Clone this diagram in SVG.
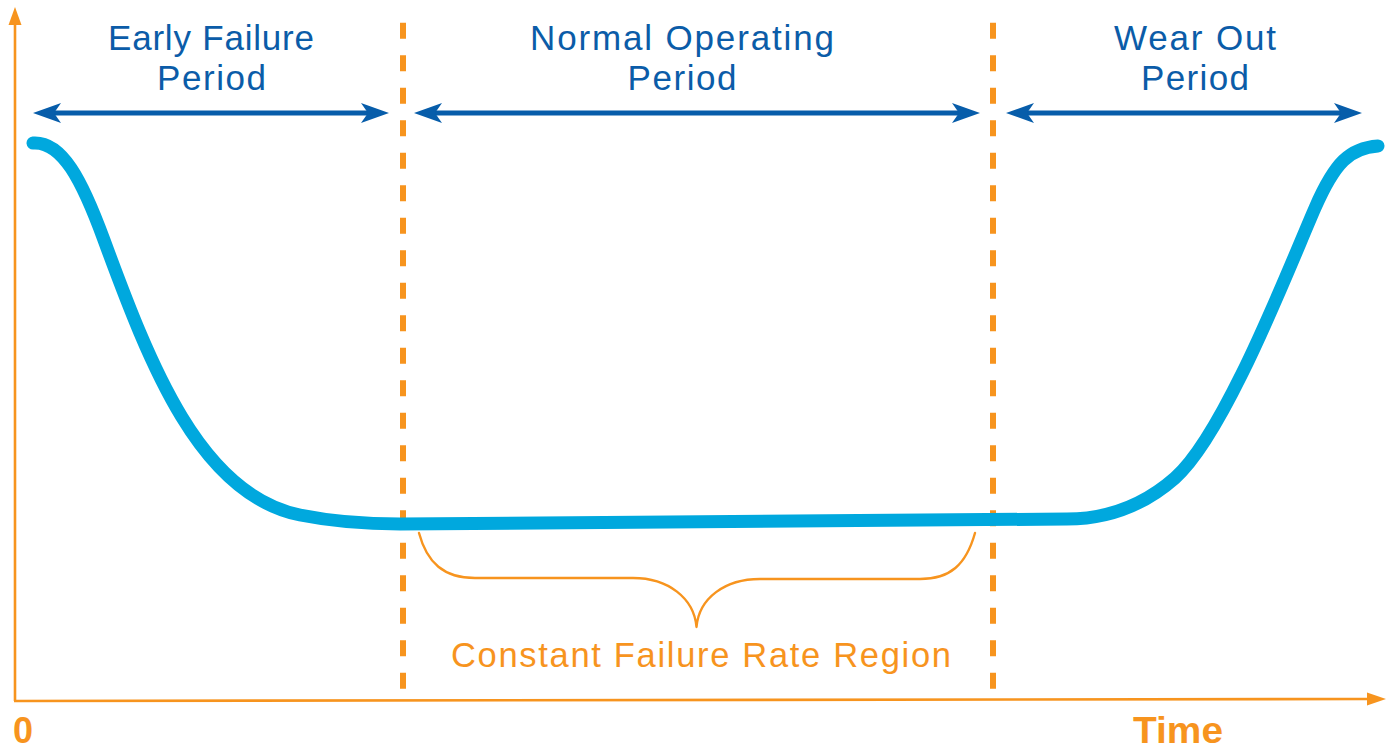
<svg xmlns="http://www.w3.org/2000/svg" width="1390" height="749" viewBox="0 0 1390 749">
  <style>
    .axis { stroke: #F7941E; stroke-width: 2.6; fill: none; }
    .axhead { fill: #F7941E; }
    .divider { stroke: #F7941E; stroke-width: 6; stroke-dasharray: 16 16.5; fill: none; }
    .span { stroke: #075DAA; stroke-width: 5; fill: none; }
    .curve { stroke: #00A8DE; stroke-width: 13; fill: none; stroke-linecap: round; stroke-linejoin: round; }
    .brace { stroke: #F7941E; stroke-width: 2.4; fill: none; stroke-linecap: round; stroke-linejoin: round; }
    .lbl { font-family: "Liberation Sans", Arial, sans-serif; font-size: 35px; fill: #0B5CA8; text-anchor: middle; }
    .olbl { font-family: "Liberation Sans", Arial, sans-serif; font-size: 34.5px; fill: #F7941E; text-anchor: middle; }
    .axlbl { font-family: "Liberation Sans", Arial, sans-serif; font-size: 36px; font-weight: bold; fill: #F7941E; }
  </style>
  <defs>
    <marker id="barb" markerUnits="userSpaceOnUse" markerWidth="30" markerHeight="22" viewBox="0 -11 30 22" refX="10" refY="0" orient="auto-start-reverse">
      <path d="M0,-10 L28,0 L0,10 L7,0 Z" fill="#075DAA"/>
    </marker>
  </defs>

  <rect width="1390" height="749" fill="#FFFFFF"/>

  <g id="axes">
    <line class="axis" x1="15" y1="701" x2="15" y2="22"/>
    <polygon class="axhead" points="15,7 21.5,25 8.5,25"/>
    <line class="axis" x1="14" y1="701" x2="1370" y2="699"/>
    <polygon class="axhead" points="1386,699 1367,692.5 1367,705.5"/>
    <text class="axlbl" x="13" y="743">0</text>
    <text class="axlbl" x="1133" y="743" textLength="90" lengthAdjust="spacingAndGlyphs">Time</text>
  </g>

  <g id="dividers">
    <line class="divider" x1="403" y1="22.7" x2="403" y2="690"/>
    <line class="divider" x1="993" y1="22.7" x2="993" y2="690"/>
  </g>

  <g id="connectors">
    <line class="span" x1="51" y1="113" x2="371" y2="113" marker-start="url(#barb)" marker-end="url(#barb)"/>
    <line class="span" x1="432" y1="113" x2="962" y2="113" marker-start="url(#barb)" marker-end="url(#barb)"/>
    <line class="span" x1="1024" y1="113" x2="1344" y2="113" marker-start="url(#barb)" marker-end="url(#barb)"/>
  </g>

  <g id="early-failure">
    <text class="lbl" x="211" y="50" textLength="206" lengthAdjust="spacing">Early Failure</text>
    <text class="lbl" x="211.5" y="90" textLength="109" lengthAdjust="spacing">Period</text>
  </g>
  <g id="normal-operating">
    <text class="lbl" x="682" y="50" textLength="304" lengthAdjust="spacing">Normal Operating</text>
    <text class="lbl" x="682" y="90" textLength="109" lengthAdjust="spacing">Period</text>
  </g>
  <g id="wear-out">
    <text class="lbl" x="1195" y="50" textLength="162" lengthAdjust="spacing">Wear Out</text>
    <text class="lbl" x="1195" y="90" textLength="108" lengthAdjust="spacing">Period</text>
  </g>

  <g id="bathtub-curve">
    <path class="curve" d="M33,143 C62,141 82,180 104,240 C150,365 200,495 300,515 C330,521 360,524 400,524 L1067,519 C1115,519 1150,500 1175,478 C1225,434 1290,265 1315,208 C1335,162 1350,148 1378,146"/>
  </g>

  <g id="constant-region">
    <path class="brace" d="M419,533 C427,563 444,578 475,578 L633,578 C668,578 694,598 696.5,627 C699,598 725,579 760,579 L920,579 C950,579 966,565 975,533"/>
    <text class="olbl" x="701" y="667" textLength="500" lengthAdjust="spacing">Constant Failure Rate Region</text>
  </g>
</svg>
